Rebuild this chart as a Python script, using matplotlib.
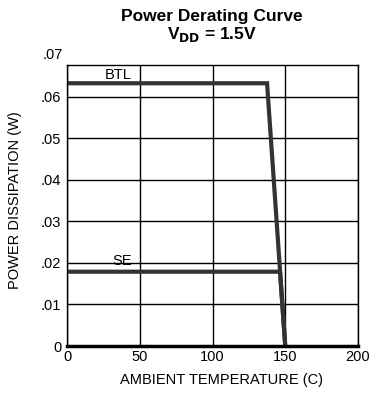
import matplotlib
matplotlib.use("Agg")
import matplotlib.pyplot as plt

plt.rcParams['font.family'] = ['Liberation Sans', 'DejaVu Sans']

btl_temp = [0, 137.5, 150]
btl_power = [0.0633, 0.0633, 0.0]
se_temp = [0, 146.4, 150]
se_power = [0.0179, 0.0179, 0.0]
xticks = [0, 50, 100, 150, 200]
xticklabels = ["0", "50", "100", "150", "200"]
yticks = [0, 0.01, 0.02, 0.03, 0.04, 0.05, 0.06]
yticklabels = ["0", ".01", ".02", ".03", ".04", ".05", ".06"]

fig = plt.figure(figsize=(3.81, 3.94), dpi=100)
ax = fig.add_axes([67/381, 1-346/394, (358-67)/381, (346-65)/394])
ax.set_xlim(0, 200)
ax.set_ylim(0, 0.0677)

fs = 10.5
ax.set_xticks(xticks)
ax.set_xticklabels(xticklabels)
ax.set_yticks(yticks)
ax.set_yticklabels(yticklabels)
ax.tick_params(length=0, labelsize=fs, pad=3)
ax.tick_params(axis='y', pad=4)
ax.grid(True, color='black', linewidth=1.0)
ax.set_axisbelow(True)
for s in ax.spines.values():
    s.set_linewidth(1.0)
ax.spines['bottom'].set_linewidth(2.5)

ax.plot(btl_temp, btl_power, color='#333333', linewidth=3.0, solid_joinstyle='miter')
ax.plot(se_temp, se_power, color='#333333', linewidth=3.0, solid_joinstyle='miter')

ax.text(35, 0.0653, "BTL", ha='center', va='center', fontsize=fs)
ax.text(37.8, 0.0204, "SE", ha='center', va='center', fontsize=fs)
ax.text(-2.5, 0.0702, ".07", ha='right', va='center', fontsize=fs, clip_on=False)

ax.set_xlabel("AMBIENT TEMPERATURE (C)", fontsize=fs, labelpad=6)
ax.xaxis.set_label_coords(0.53, -0.095)
ax.set_ylabel("POWER DISSIPATION (W)", fontsize=fs, labelpad=8)
ax.yaxis.set_label_coords(-0.155, 0.52)

fig.text(212/381, 1-17/394, "Power Derating Curve", ha='center', va='center',
         fontsize=12.5, fontweight='bold')
fig.text(212/381, 1-34/394, r"V$_\mathbf{DD}$ = 1.5V", ha='center', va='center',
         fontsize=12.5, fontweight='bold')

fig.savefig("out.png", dpi=100)
